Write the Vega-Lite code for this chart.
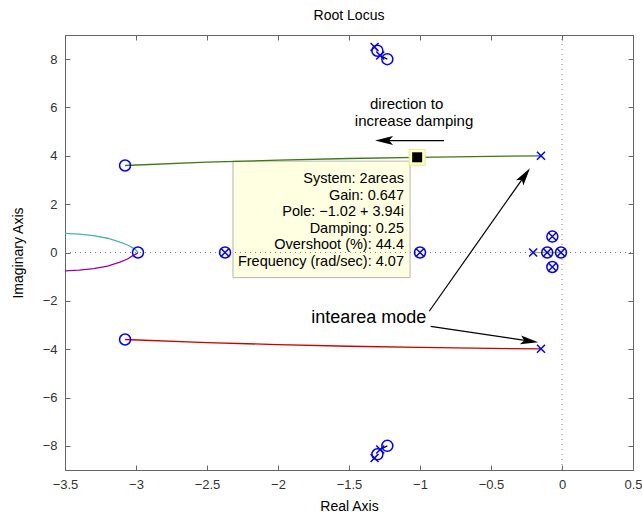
{
  "$schema": "https://vega.github.io/schema/vega-lite/v6.json",
  "width": 568,
  "height": 435,
  "autosize": {"type": "none"},
  "padding": {"left": 65, "top": 35, "right": 9, "bottom": 48},
  "title": {"text": "Root Locus", "fontSize": 14, "fontWeight": "normal", "font": "Liberation Sans", "color": "#000000", "offset": 12},
  "config": {
    "font": "Liberation Sans",
    "view": {"stroke": "#666666", "strokeWidth": 1},
    "axis": {
      "domainColor": "#666666", "tickColor": "#666666", "tickSize": -5, "tickWidth": 1,
      "labelColor": "#333333", "labelFontSize": 13, "labelPadding": 13, "labelFont": "Liberation Sans", "labelFlush": false,
      "grid": false, "titleFontSize": 14, "titleFontWeight": "normal", "titleColor": "#000000", "titleFont": "Liberation Sans"
    }
  },
  "datasets": {
    "vrule": [{"x": 0, "y": -9, "y2": 9}],
    "hrule": [{"x": -3.5, "x2": 0.5, "y": 0}],
    "box": [{"x": -2.317, "x2": -1.07, "y": 3.78, "y2": -1.04}],
    "loci": [
      {"series": "g", "i": 0, "x": -3.077, "y": 3.6},
      {"series": "g", "i": 1, "x": -2.5, "y": 3.74},
      {"series": "g", "i": 2, "x": -2.0, "y": 3.82},
      {"series": "g", "i": 3, "x": -1.5, "y": 3.89},
      {"series": "g", "i": 4, "x": -1.02, "y": 3.94},
      {"series": "g", "i": 5, "x": -0.5, "y": 3.98},
      {"series": "g", "i": 6, "x": -0.148, "y": 4.0},
      {"series": "r", "i": 0, "x": -3.077, "y": -3.6},
      {"series": "r", "i": 1, "x": -2.5, "y": -3.73},
      {"series": "r", "i": 2, "x": -2.0, "y": -3.81},
      {"series": "r", "i": 3, "x": -1.5, "y": -3.88},
      {"series": "r", "i": 4, "x": -1.0, "y": -3.93},
      {"series": "r", "i": 5, "x": -0.5, "y": -3.97},
      {"series": "r", "i": 6, "x": -0.148, "y": -3.99},
      {"series": "c", "i": 0, "x": -3.5, "y": 0.79},
      {"series": "c", "i": 1, "x": -3.4, "y": 0.76},
      {"series": "c", "i": 2, "x": -3.3, "y": 0.7},
      {"series": "c", "i": 3, "x": -3.2, "y": 0.59},
      {"series": "c", "i": 4, "x": -3.113, "y": 0.43},
      {"series": "c", "i": 5, "x": -3.06, "y": 0.31},
      {"series": "c", "i": 6, "x": -3.031, "y": 0.22},
      {"series": "c", "i": 7, "x": -3.0, "y": 0.1},
      {"series": "c", "i": 8, "x": -2.986, "y": 0},
      {"series": "m", "i": 0, "x": -3.5, "y": -0.76},
      {"series": "m", "i": 1, "x": -3.4, "y": -0.73},
      {"series": "m", "i": 2, "x": -3.3, "y": -0.67},
      {"series": "m", "i": 3, "x": -3.2, "y": -0.56},
      {"series": "m", "i": 4, "x": -3.113, "y": -0.4},
      {"series": "m", "i": 5, "x": -3.06, "y": -0.27},
      {"series": "m", "i": 6, "x": -3.031, "y": -0.16},
      {"series": "m", "i": 7, "x": -3.0, "y": -0.07},
      {"series": "m", "i": 8, "x": -2.986, "y": 0},
      {"series": "y0", "i": 0, "x": -0.203, "y": 0},
      {"series": "y0", "i": 1, "x": -0.007, "y": 0},
      {"series": "k1", "i": 0, "x": -1.28, "y": 8.15},
      {"series": "k1", "i": 1, "x": -1.23, "y": 8.0},
      {"series": "k2", "i": 0, "x": -1.28, "y": -8.15},
      {"series": "k2", "i": 1, "x": -1.23, "y": -8.0},
      {"series": "p1", "i": 0, "x": -1.32, "y": 8.5},
      {"series": "p1", "i": 1, "x": -1.3, "y": 8.35},
      {"series": "y1", "i": 0, "x": -1.32, "y": -8.5},
      {"series": "y1", "i": 1, "x": -1.3, "y": -8.35}
    ],
    "zeros": [
      {"x": -3.077, "y": 3.6}, {"x": -3.077, "y": -3.6}, {"x": -2.986, "y": 0},
      {"x": -2.373, "y": 0}, {"x": -1.0, "y": 0}, {"x": -0.104, "y": 0},
      {"x": -0.007, "y": 0}, {"x": -0.068, "y": 0.66}, {"x": -0.068, "y": -0.6},
      {"x": -1.3, "y": 8.35}, {"x": -1.23, "y": 8.0}, {"x": -1.3, "y": -8.35}, {"x": -1.23, "y": -8.0}
    ],
    "poles": [
      {"x": -0.148, "y": 4.0}, {"x": -0.148, "y": -3.98}, {"x": -2.373, "y": 0},
      {"x": -1.0, "y": 0}, {"x": -0.203, "y": 0}, {"x": -0.104, "y": 0},
      {"x": -0.007, "y": 0}, {"x": -0.068, "y": 0.66}, {"x": -0.068, "y": -0.6},
      {"x": -1.32, "y": 8.5}, {"x": -1.28, "y": 8.15}, {"x": -1.32, "y": -8.5}, {"x": -1.28, "y": -8.15}
    ],
    "sel": [{"x": -1.02, "y": 3.94}],
    "tip": [
      {"x": -1.113, "y": 3.03, "t": "System: 2areas"},
      {"x": -1.113, "y": 2.34, "t": "Gain: 0.647"},
      {"x": -1.113, "y": 1.66, "t": "Pole: −1.02 + 3.94i"},
      {"x": -1.113, "y": 0.98, "t": "Damping: 0.25"},
      {"x": -1.113, "y": 0.29, "t": "Overshoot (%): 44.4"},
      {"x": -1.113, "y": -0.39, "t": "Frequency (rad/sec): 4.07"}
    ],
    "notes": [
      {"x": -1.094, "y": 6.14, "t": "direction  to"},
      {"x": -1.042, "y": 5.43, "t": "increase  damping"}
    ],
    "notes2": [
      {"x": -1.361, "y": -2.7, "t": "intearea mode"}
    ],
    "arrows": [
      {"x": -0.831, "y": 4.63, "x2": -1.246, "y2": 4.63},
      {"x": -0.935, "y": -2.43, "x2": -0.266, "y2": 3.15},
      {"x": -0.925, "y": -3.06, "x2": -0.237, "y2": -3.66}
    ],
    "head1": [{"x": -1.246, "y": 4.63}],
    "head2": [{"x": -0.266, "y": 3.15}],
    "head3": [{"x": -0.237, "y": -3.66}]
  },
  "encoding": {
    "x": {"field": "x", "type": "quantitative", "scale": {"domain": [-3.5, 0.5], "nice": false, "zero": false}, "axis": null},
    "y": {"field": "y", "type": "quantitative", "scale": {"domain": [-9, 9], "nice": false, "zero": false}, "axis": null}
  },
  "resolve": {"axis": {"x": "independent", "y": "independent"}},
  "layer": [
    {
      "data": {"name": "box"},
      "mark": {"type": "rect", "fill": "#ffffe1", "stroke": "#b4b4b4", "strokeWidth": 1},
      "encoding": {"x2": {"field": "x2"}, "y2": {"field": "y2"}}
    },
    {
      "data": {"name": "vrule"},
      "mark": {"type": "rule", "color": "#808080", "strokeDash": [1, 4], "strokeWidth": 1},
      "encoding": {
        "x": {"field": "x", "type": "quantitative", "axis": {"orient": "bottom", "title": "Real Axis", "values": [-3.5, -3, -2.5, -2, -1.5, -1, -0.5, 0, 0.5], "format": "~g", "titlePadding": 8}},
        "y": {"field": "y", "type": "quantitative", "axis": {"orient": "left", "title": "Imaginary Axis", "values": [-8, -6, -4, -2, 0, 2, 4, 6, 8], "format": "d", "titlePadding": 17}},
        "y2": {"field": "y2"}
      }
    },
    {
      "data": {"name": "hrule"},
      "mark": {"type": "rule", "color": "#808080", "strokeDash": [1, 4], "strokeWidth": 1},
      "encoding": {
        "x": {"field": "x", "type": "quantitative", "axis": {"orient": "top", "title": null, "labels": false, "values": [-3.5, -3, -2.5, -2, -1.5, -1, -0.5, 0, 0.5]}},
        "y": {"field": "y", "type": "quantitative", "axis": {"orient": "right", "title": null, "labels": false, "values": [-8, -6, -4, -2, 0, 2, 4, 6, 8]}},
        "x2": {"field": "x2"}
      }
    },
    {
      "data": {"name": "loci"},
      "mark": {"type": "line", "strokeWidth": 1.3},
      "encoding": {
        "color": {"field": "series", "type": "nominal", "legend": null,
          "scale": {"domain": ["g", "r", "c", "m", "y0", "k1", "k2", "p1", "y1"],
                    "range": ["#3d7a14", "#cc0000", "#4cb2b2", "#9900aa", "#b5b800", "#000000", "#000000", "#cc00cc", "#b5b800"]}},
        "detail": {"field": "series"},
        "order": {"field": "i", "type": "quantitative"}
      }
    },
    {
      "data": {"name": "zeros"},
      "mark": {"type": "point", "shape": "circle", "size": 121, "filled": false, "stroke": "#0000ff", "strokeWidth": 1.5, "opacity": 1}
    },
    {
      "data": {"name": "poles"},
      "mark": {"type": "point", "shape": "M-1,-1L1,1M-1,1L1,-1", "size": 64, "filled": false, "stroke": "#0000ff", "strokeWidth": 1.5, "opacity": 1}
    },
    {
      "data": {"name": "sel"},
      "mark": {"type": "point", "shape": "square", "size": 256, "filled": true, "fill": "#ffffc0", "stroke": "#e6e6a0", "strokeWidth": 1, "opacity": 1}
    },
    {
      "data": {"name": "sel"},
      "mark": {"type": "point", "shape": "square", "size": 100, "filled": true, "fill": "#000000", "opacity": 1}
    },
    {
      "data": {"name": "tip"},
      "mark": {"type": "text", "align": "right", "baseline": "middle", "fontSize": 14.5, "font": "Liberation Sans", "color": "#000000"},
      "encoding": {"text": {"field": "t"}}
    },
    {
      "data": {"name": "notes"},
      "mark": {"type": "text", "align": "center", "baseline": "middle", "fontSize": 15, "font": "Liberation Sans", "color": "#000000"},
      "encoding": {"text": {"field": "t"}}
    },
    {
      "data": {"name": "notes2"},
      "mark": {"type": "text", "align": "center", "baseline": "middle", "fontSize": 18, "font": "Liberation Sans", "color": "#000000"},
      "encoding": {"text": {"field": "t"}}
    },
    {
      "data": {"name": "arrows"},
      "mark": {"type": "rule", "color": "#000000", "strokeWidth": 1.2},
      "encoding": {"x2": {"field": "x2"}, "y2": {"field": "y2"}}
    },
    {
      "data": {"name": "head1"},
      "mark": {"type": "point", "shape": "M0,-1L0.45,0.8L0,0.4L-0.45,0.8Z", "size": 400, "angle": 270, "filled": true, "fill": "#000000", "opacity": 1}
    },
    {
      "data": {"name": "head2"},
      "mark": {"type": "point", "shape": "M0,-1L0.45,0.8L0,0.4L-0.45,0.8Z", "size": 400, "angle": 35, "filled": true, "fill": "#000000", "opacity": 1}
    },
    {
      "data": {"name": "head3"},
      "mark": {"type": "point", "shape": "M0,-1L0.45,0.8L0,0.4L-0.45,0.8Z", "size": 400, "angle": 98, "filled": true, "fill": "#000000", "opacity": 1}
    }
  ]
}
